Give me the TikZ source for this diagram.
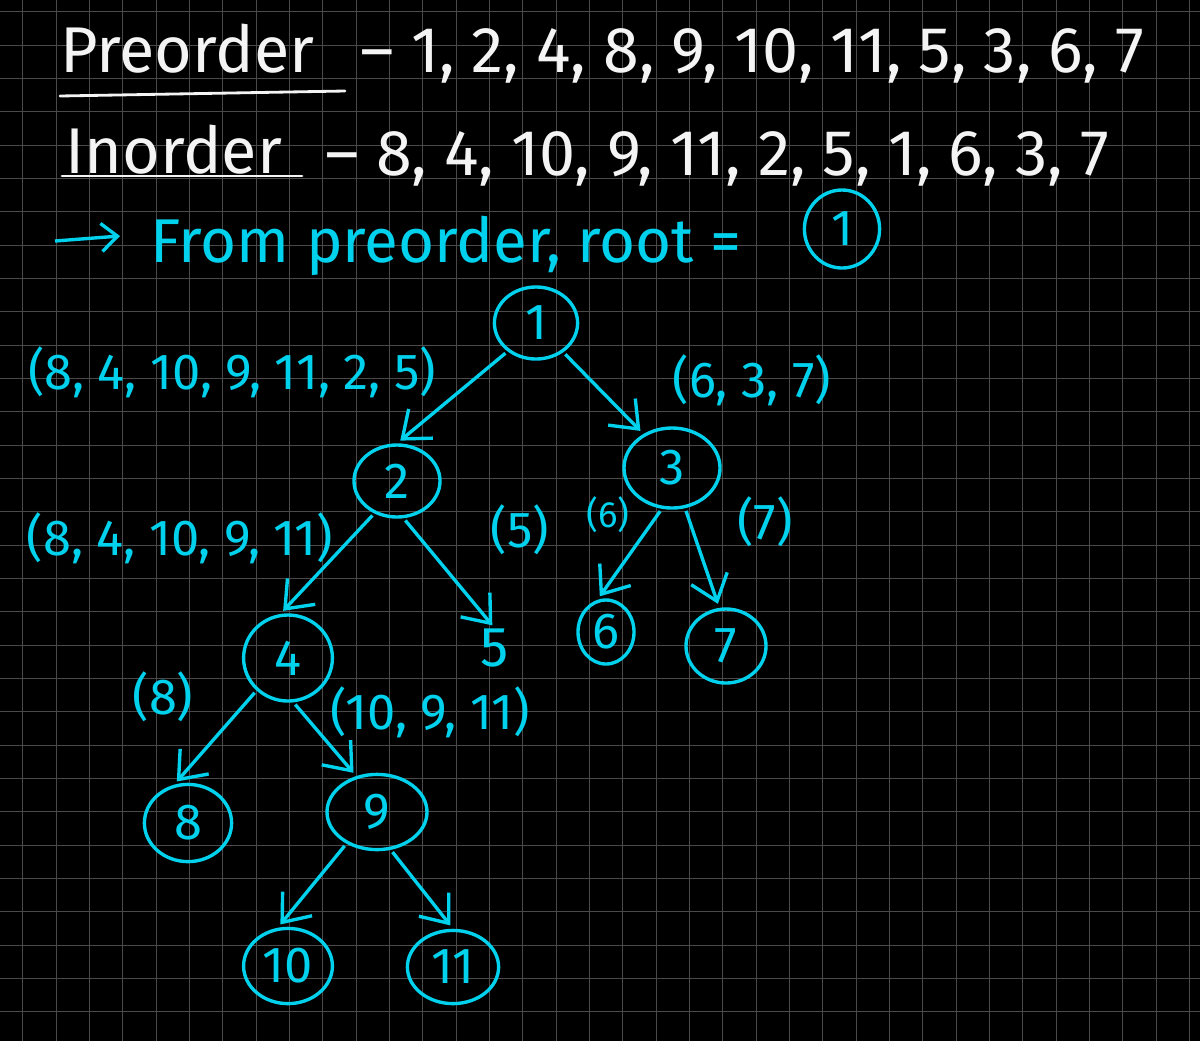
\documentclass[tikz,border=0pt]{standalone}
\usepackage{fontspec}
\setmainfont{Fira Sans}
\usetikzlibrary{arrows.meta,shapes.geometric,positioning}
\definecolor{inkc}{HTML}{00D2EE}
\definecolor{chalk}{HTML}{F4F4F4}
\definecolor{gridc}{HTML}{4A4A4A}
\tikzset{
  ar/.style={-{Straight Barb[length=6mm,width=9.5mm]},line width=2.4pt,inkc,shorten <=2pt,shorten >=3pt},
  tnode/.style={draw=inkc,line width=2.4pt,ellipse,inner sep=0pt,text=inkc,font=\fontsize{36}{40}\selectfont},
  lbl/.style={text=inkc,font=\fontsize{36}{40}\selectfont,inner sep=0pt},
  head/.style={text=chalk,font=\fontsize{46}{50}\selectfont,inner sep=0pt,anchor=base west},
  uline/.style={chalk,line width=2pt,line cap=round},
  gl/.style={gridc,line width=0.7pt}
}
\begin{document}
\begin{tikzpicture}[x=0.025cm,y=-0.025cm]
\useasboundingbox (0,0) rectangle (1200,1041);
\fill[black] (0,0) rectangle (1200,1041);
% grid
\foreach \i in {0,...,35} \draw[gl] ({22.7+33.333*\i},0) -- ++(0,1041);
\foreach \j in {0,...,30} \draw[gl] (0,{11.7+33.333*\j}) -- ++(1200,0);
% header lines
\node[head] (pre) at (60,72) {Preorder};
\node[head] (prel) at (360,72) {– 1, 2, 4, 8, 9, 10, 11, 5, 3, 6, 7};
\draw[uline] (60,96) -- (345,91);
\node[head] (ino) at (65,173) {Inorder};
\node[head] (inol) at (325,175) {– 8, 4, 10, 9, 11, 2, 5, 1, 6, 3, 7};
\draw[uline] (62,176) -- (302,176);
\coordinate (aa) at (55,241); \coordinate (ab) at (120,236);
\draw[ar,-{Straight Barb[length=4mm,width=7mm]},shorten <=0pt,shorten >=0pt] (aa) -- (ab);
\node[head,text=inkc,font=\fontsize{44}{48}\selectfont] (from) at (150,262) {From preorder, root =};
\node[tnode,minimum width=1.88cm,minimum height=1.95cm] (root) at (842,229) {1};
% tree
\node[tnode,minimum width=2.08cm,minimum height=1.8cm] (n1) at (536,323) {1};
\node[tnode,minimum width=2.15cm,minimum height=1.8cm] (n2) at (397,481) {2};
\node[tnode,minimum width=2.4cm,minimum height=2cm] (n3) at (672,468) {3};
\node[tnode,minimum width=2.22cm,minimum height=2.15cm] (n4) at (288,658) {4};
\node[lbl,font=\fontsize{40}{44}\selectfont] (n5) at (495,648) {5};
\node[tnode,minimum width=1.4cm,minimum height=1.6cm] (n6) at (606,632) {6};
\node[tnode,minimum width=2cm,minimum height=1.85cm] (n7) at (726,646) {7};
\node[tnode,minimum width=2.18cm,minimum height=1.93cm] (n8) at (188,823) {8};
\node[tnode,minimum width=2.5cm,minimum height=1.88cm] (n9) at (377,812) {9};
\node[tnode,minimum width=2.22cm,minimum height=1.88cm] (n10) at (288,966) {10};
\node[tnode,minimum width=2.28cm,minimum height=1.83cm] (n11) at (453,967) {11};
% edges
\draw[ar] (n1.225) -- (n2.north);
\draw[ar] (n1.313) -- (n3.130);
\draw[ar] (n2.235) -- (n4.100);
\draw[ar] (n2.280) -- (n5.north);
\draw[ar] (n3.256) -- (n6.105);
\draw[ar] (n3.288) -- (n7.100);
\draw[ar] (n4.226) -- (n8.110);
\draw[ar] (n4.277) -- (n9.120);
\draw[ar] (n9.226) -- (n10.105);
\draw[ar] (n9.290) -- (n11.north);
% inorder splits
\node[lbl] (s1) at (232,372) {(8, 4, 10, 9, 11, 2, 5)};
\node[lbl] (s2) at (752,380) {(6, 3, 7)};
\node[lbl] (s3) at (180,538) {(8, 4, 10, 9, 11)};
\node[lbl] (s4) at (520,530) {(5)};
\node[lbl,font=\fontsize{26}{30}\selectfont] (s5) at (608,515) {(6)};
\node[lbl] (s6) at (765,522) {(7)};
\node[lbl] (s7) at (163,697) {(8)};
\node[lbl] (s8) at (430,712) {(10, 9, 11)};
\end{tikzpicture}
\end{document}
